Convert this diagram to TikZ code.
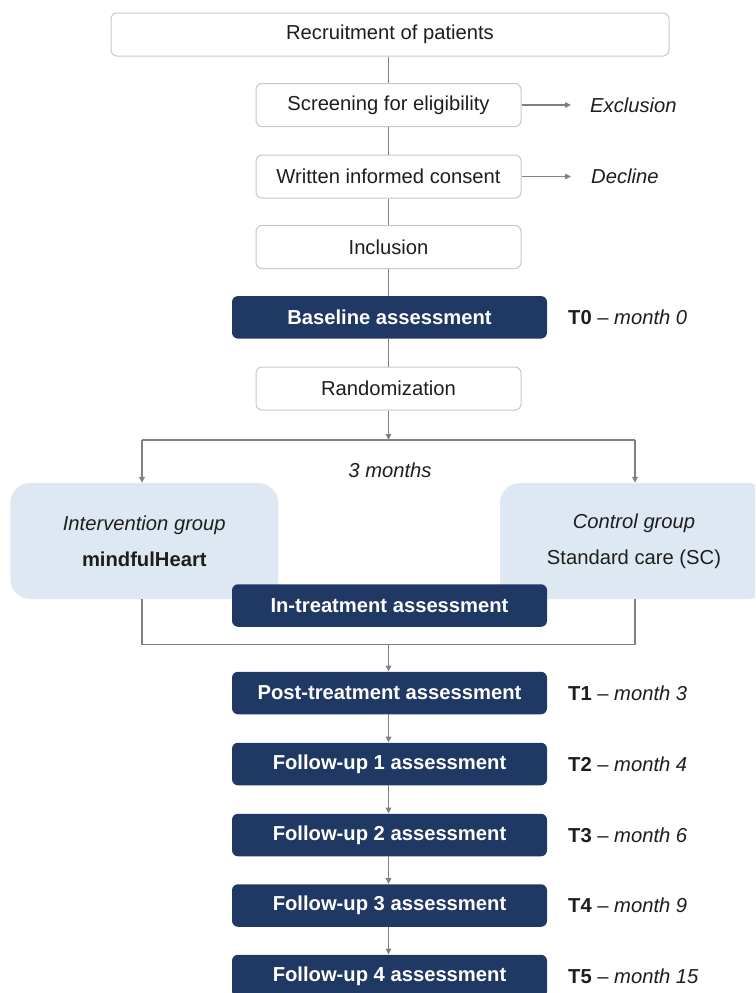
\documentclass[tikz,border=0pt]{standalone}
\usepackage{fontspec}
\setmainfont{Liberation Sans}
\usetikzlibrary{arrows.meta}
\definecolor{navy}{RGB}{32,56,100}
\definecolor{lblue}{RGB}{222,232,243}
\definecolor{lgray}{RGB}{200,200,200}
\definecolor{cgray}{RGB}{128,128,128}
\definecolor{txt}{RGB}{30,30,30}
\newcommand{\fsz}{\fontsize{20.2}{24}\selectfont}
\begin{document}
\begin{tikzpicture}[x=1pt,y=-1pt,
  wbox/.style={draw=lgray, line width=1pt, fill=white, rounded corners=6pt,
    minimum width=265pt, minimum height=43pt, inner sep=0pt, text=txt, font=\fsz},
  dbox/.style={fill=navy, rounded corners=6pt, minimum width=315pt,
    minimum height=42.5pt, inner sep=0pt, text=white, font=\fsz\bfseries},
  gbox/.style={fill=lblue, rounded corners=20pt, minimum width=268pt,
    minimum height=116pt, inner sep=0pt, align=center, text=txt,
    font=\fontsize{20.2}{36}\selectfont},
  conn/.style={draw=cgray, line width=1.8pt},
  arr/.style={conn, -{Triangle[length=6pt,width=5.5pt]}},
  lbl/.style={anchor=west, inner sep=0pt, text=txt, font=\fsz}]
\useasboundingbox (0,0) rectangle (755,993);
\clip (0,0) rectangle (755,993);
\fill[white] (0,0) rectangle (755,993);

% white boxes
\node[wbox, minimum width=558pt] (rec) at (390,34.5) {Recruitment of patients};
\node[wbox] (scr) at (388.5,105) {Screening for eligibility};
\node[wbox] (con) at (388.5,176.5) {Written informed consent};
\node[wbox] (inc) at (388.5,247) {Inclusion};
\node[dbox] (base) at (389.5,317.3) {Baseline assessment};
\node[wbox] (rand) at (388.5,388.5) {Randomization};

% side labels
\node[lbl] (exc) at (590,105) {\textit{Exclusion}};
\node[lbl] (dec) at (591,176.5) {\textit{Decline}};
\node[lbl] (t0) at (568,317.3) {\textbf{T0} – \textit{month 0}};

% groups
\node[gbox] (ig) at (144.3,541) {\textit{Intervention group}\\\textbf{mindfulHeart}};
\node[gbox] (cg) at (634,541) {\textit{Control group}\\Standard care (SC)};
\node[font=\fsz\itshape, text=txt, inner sep=0pt] (three) at (390,470) {3 months};
\node[dbox] (intr) at (389.5,605.5) {In-treatment assessment};

% assessments
\node[dbox] (post) at (389.5,693) {Post-treatment assessment};
\node[dbox] (fu1) at (389.5,764) {Follow-up 1 assessment};
\node[dbox] (fu2) at (389.5,835) {Follow-up 2 assessment};
\node[dbox] (fu3) at (389.5,905.5) {Follow-up 3 assessment};
\node[dbox] (fu4) at (389.5,976) {Follow-up 4 assessment};

\node[lbl] (t1) at (568,693) {\textbf{T1} – \textit{month 3}};
\node[lbl] (t2) at (568,764) {\textbf{T2} – \textit{month 4}};
\node[lbl] (t3) at (568,835) {\textbf{T3} – \textit{month 6}};
\node[lbl] (t4) at (568,905.5) {\textbf{T4} – \textit{month 9}};
\node[lbl] (t5) at (568,976) {\textbf{T5} – \textit{month 15}};

% connectors (top)
\draw[conn] (rec.south -| scr.north) -- (scr.north);
\draw[conn] (scr) -- (con);
\draw[conn] (con) -- (inc);
\draw[conn] (inc.south) -- (inc.south |- base.north);
\draw[conn] (rand.north |- base.south) -- (rand.north);
\draw[arr, shorten >=19pt] (scr.east) -- (exc.west);
\draw[arr, shorten >=20pt] (con.east) -- (dec.west);

% split
\coordinate (split) at (388.5,440);
\coordinate (sl) at (142,440);
\coordinate (sr) at (635,440);
\draw[arr] (rand) -- (split);
\draw[conn] (sl) -- (sr);
\draw[arr] (sl) -- (sl |- ig.north);
\draw[arr] (sr) -- (sr |- cg.north);

% join
\coordinate (jl) at (142,644.5);
\coordinate (jr) at (635,644.5);
\coordinate (jm) at (388.5,644.5);
\draw[conn] (jl |- ig.south) -- (jl) -- (jr) -- (jr |- cg.south);
\draw[arr] (jm) -- (jm |- post.north);

% chain
\draw[arr] (post.south -| jm) -- (fu1.north -| jm);
\draw[arr] (fu1.south -| jm) -- (fu2.north -| jm);
\draw[arr] (fu2.south -| jm) -- (fu3.north -| jm);
\draw[arr] (fu3.south -| jm) -- (fu4.north -| jm);
\end{tikzpicture}
\end{document}
